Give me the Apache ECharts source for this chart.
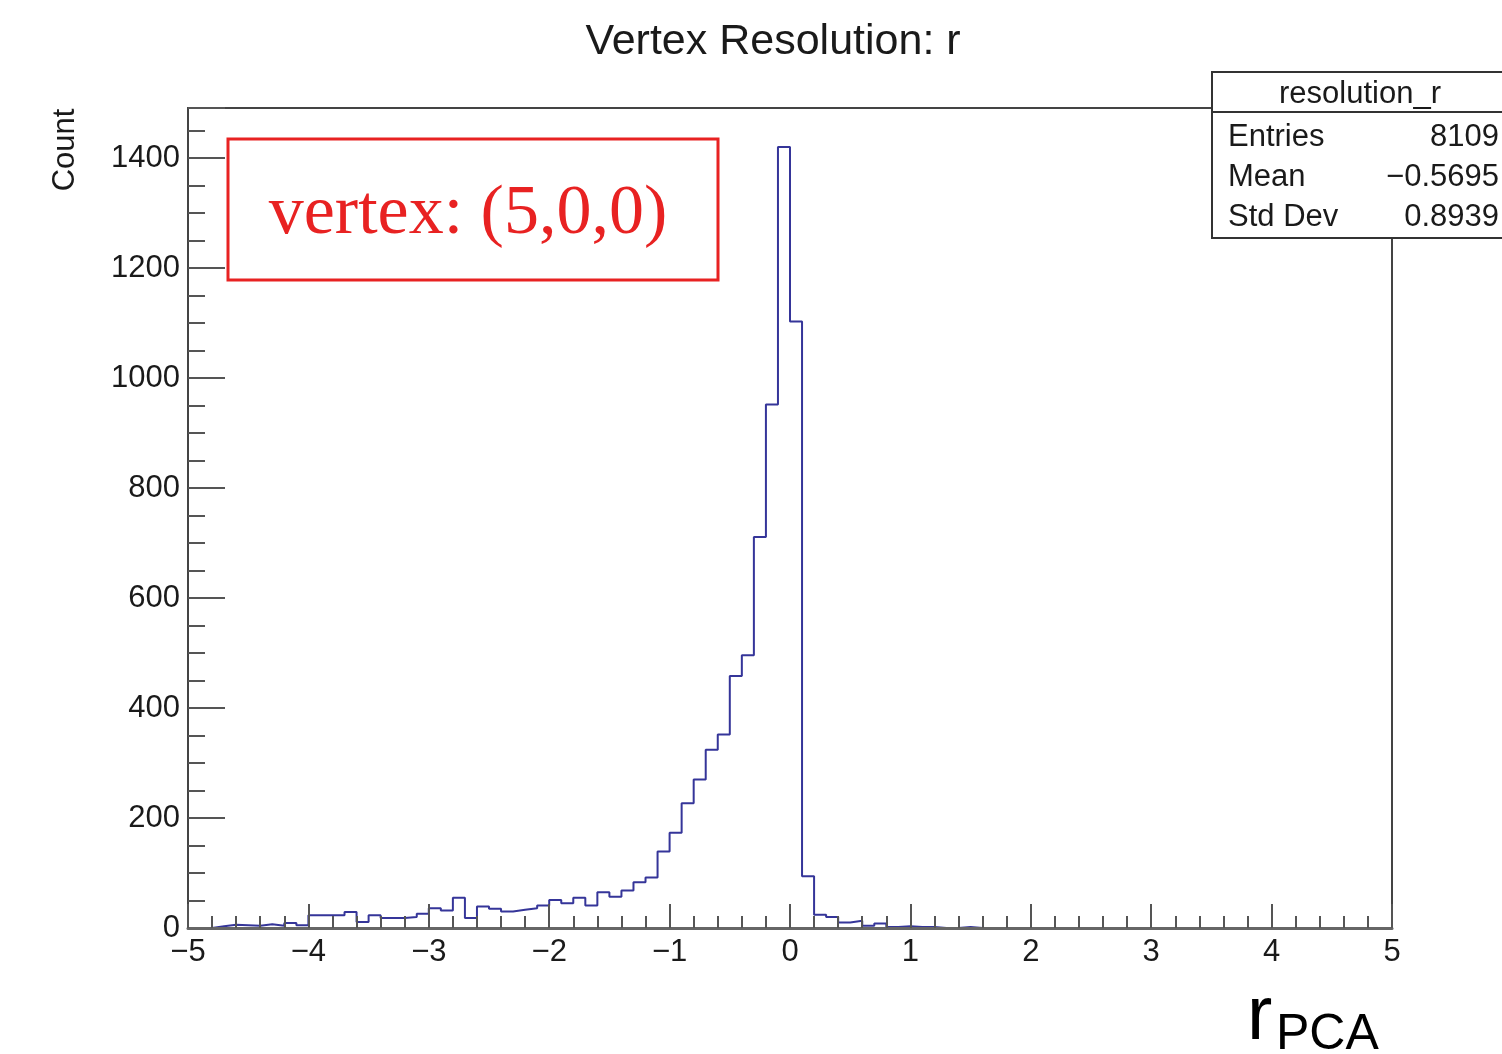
<!DOCTYPE html>
<html><head><meta charset="utf-8">
<script src="https://cdn.jsdelivr.net/npm/echarts@6/dist/echarts.min.js"></script>
<style>html,body{margin:0;padding:0;background:#fff}#c{width:1502px;height:1054px}</style>
</head><body><div id="c"></div>
<script>
// ---- data ----
const binStart = -5;
const binWidth = 0.1;
const counts = [
  0, 0, 3, 6, 5, 4, 7, 4, 9, 5,
  23, 23, 23, 29, 11, 23, 18, 18, 20, 26,
  36, 32, 55, 18, 39, 35, 30, 33, 36, 41,
  51, 45, 55, 41, 65, 57, 68, 83, 92, 139,
  173, 227, 270, 324, 352, 458, 496, 711, 952, 1420,
  1103, 94, 24, 20, 10, 13, 4, 8, 2, 3,
  2, 2, 0, 0, 2, 0, 0, 0, 0, 0,
  0, 0, 0, 0, 0, 0, 0, 0, 0, 0,
  0, 0, 0, 0, 0, 0, 0, 0, 0, 0,
  0, 0, 0, 0, 0, 0, 0, 0, 0, 0
];
const xMin = -5, xMax = 5, xStep = 1;
const yMin = 0, yMax = 1491, yStep = 200, yMinorStep = 50;
const titleText = 'Vertex Resolution: r';
const yTitle = 'Count';
const boxText = 'vertex: (5,0,0)';
const statsName = 'resolution_r';
const statsLabels = ['Entries', 'Mean', 'Std Dev'];
const statsValues = ['8109', '\u22120.5695', '0.8939'];
const xUnitMain = 'r';
const xUnitSub = 'PCA';

// ---- build ----
const pts = counts.map((c, i) => [+(binStart + i * binWidth).toFixed(3), c]);
pts.push([+(binStart + counts.length * binWidth).toFixed(3), counts[counts.length - 1]]);

const F = 'Liberation Sans, Arial, Helvetica, sans-serif';
const axisCol = '#555';
const txtCol = '#1a1a1a';
const minus = v => String(v).replace('-', '\u2212');

const statsRows = [];
const rowY = [137, 177, 217];
statsLabels.forEach((l, i) => {
  statsRows.push({type: 'text', z: 101, style: {text: l, x: 1228, y: rowY[i], font: '31px ' + F, fill: txtCol, align: 'left', verticalAlign: 'middle'}});
  statsRows.push({type: 'text', z: 101, style: {text: statsValues[i], x: 1499, y: rowY[i], font: '31px ' + F, fill: txtCol, align: 'right', verticalAlign: 'middle'}});
});

const chart = echarts.init(document.getElementById('c'));
chart.setOption({
  animation: false,
  backgroundColor: '#fff',
  grid: {left: 188, right: 110, top: 108, bottom: 126, show: true, borderColor: '#444', borderWidth: 2, backgroundColor: '#fff'},
  xAxis: [{
    type: 'value', min: xMin, max: xMax, interval: xStep, position: 'bottom', z: 10,
    axisLine: {show: true, onZero: false, lineStyle: {color: '#666', width: 3}},
    axisTick: {show: true, inside: true, length: 24, lineStyle: {color: axisCol, width: 2}},
    minorTick: {show: true, splitNumber: 5, length: 12, lineStyle: {color: axisCol, width: 2}},
    axisLabel: {fontSize: 31, fontFamily: F, color: txtCol, margin: 9, formatter: v => minus(v)},
    splitLine: {show: false}, minorSplitLine: {show: false}
  }],
  yAxis: [{
    type: 'value', min: yMin, max: yMax, interval: yStep, position: 'left',
    axisLine: {show: true, onZero: false, lineStyle: {color: '#444', width: 2}},
    axisTick: {show: true, inside: true, length: 37, lineStyle: {color: axisCol, width: 2}},
    axisLabel: {fontSize: 31, fontFamily: F, color: txtCol, margin: 8, formatter: v => (v % yStep === 0 ? String(v) : '')},
    splitLine: {show: false}
  }, {
    type: 'value', min: yMin, max: yMax, interval: yMinorStep, position: 'left',
    axisLine: {show: false, onZero: false},
    axisTick: {show: true, inside: true, length: 17, lineStyle: {color: axisCol, width: 2}},
    axisLabel: {show: false}, splitLine: {show: false}
  }],
  series: [{
    type: 'line', step: 'end', data: pts, symbol: 'none', xAxisIndex: 0, yAxisIndex: 0,
    lineStyle: {color: '#353599', width: 2}, clip: true, z: 5
  }],
  graphic: [
    {type: 'text', z: 100, style: {text: titleText, x: 773, y: 42, font: '43px ' + F, fill: txtCol, align: 'center', verticalAlign: 'middle'}},
    {type: 'text', z: 100, x: 65, y: 150, rotation: Math.PI / 2, style: {text: yTitle, x: 0, y: 0, font: '31px ' + F, fill: txtCol, align: 'center', verticalAlign: 'middle'}},
    {type: 'rect', z: 100, shape: {x: 228, y: 139, width: 490, height: 141}, style: {fill: '#fff', stroke: '#e82222', lineWidth: 3}},
    {type: 'text', z: 101, style: {text: boxText, x: 468, y: 215, font: '70px Liberation Serif, Times New Roman, serif', fill: '#e82222', align: 'center', verticalAlign: 'middle'}},
    {type: 'rect', z: 100, shape: {x: 1212, y: 72, width: 310, height: 166}, style: {fill: '#fff', stroke: '#333', lineWidth: 2}},
    {type: 'line', z: 101, shape: {x1: 1212, y1: 112, x2: 1522, y2: 112}, style: {stroke: '#333', lineWidth: 2}},
    {type: 'text', z: 101, style: {text: statsName, x: 1360, y: 94, font: '31px ' + F, fill: txtCol, align: 'center', verticalAlign: 'middle'}},
    ...statsRows,
    {type: 'text', z: 100, style: {text: xUnitMain, x: 1247, y: 1018, font: '76px ' + F, fill: '#000', align: 'left', verticalAlign: 'middle'}},
    {type: 'text', z: 100, style: {text: xUnitSub, x: 1276, y: 1035, font: '50px ' + F, fill: '#000', align: 'left', verticalAlign: 'middle'}}
  ]
});
</script>
</body></html>
